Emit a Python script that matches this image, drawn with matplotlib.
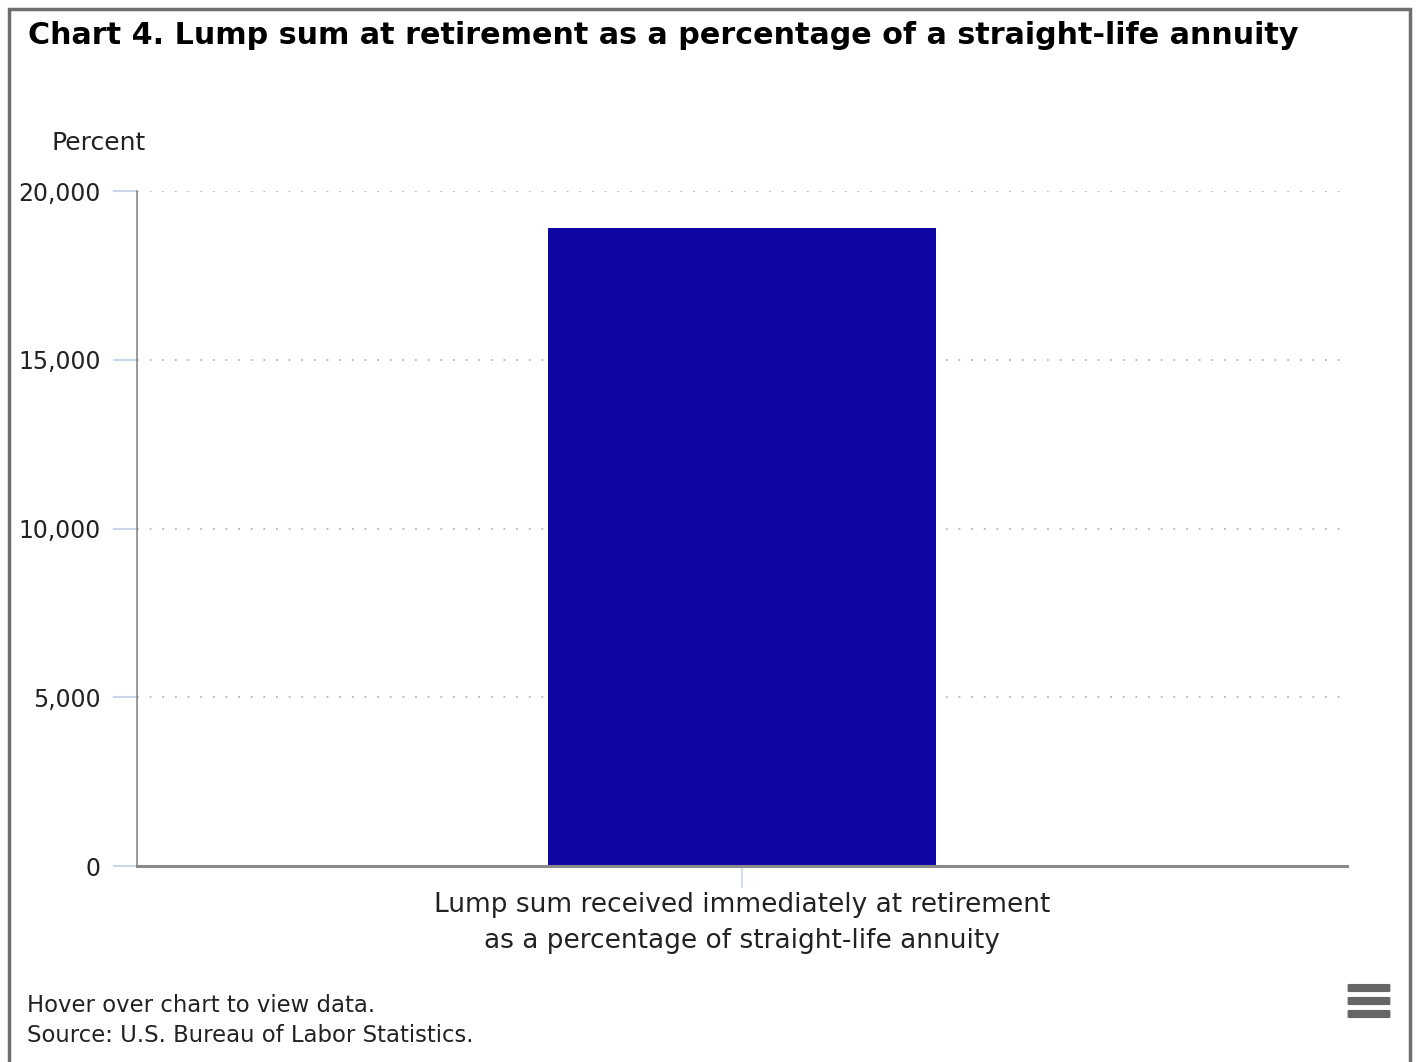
import matplotlib
matplotlib.use("Agg")
import matplotlib.pyplot as plt
from matplotlib.patches import Rectangle, FancyBboxPatch
from matplotlib.ticker import FuncFormatter

categories = ["Lump sum received immediately at retirement\nas a percentage of straight-life annuity"]
values = [18900]
yticks = [0, 5000, 10000, 15000, 20000]

title = "Chart 4. Lump sum at retirement as a percentage of a straight-life annuity"
footer1 = "Hover over chart to view data."
footer2 = "Source: U.S. Bureau of Labor Statistics."

W, H = 1416, 1062
fig = plt.figure(figsize=(W / 100, H / 100), dpi=100)
fig.patch.set_facecolor("white")

# outer frame
fig.patches.append(Rectangle((8.5 / W, -0.01), (1409.5 - 8.5) / W, (1062 - 9) / H + 0.01,
                             transform=fig.transFigure, fill=False,
                             edgecolor="#6e6e6e", linewidth=2.5))

left, right, top, bottom = 137, 1347, 191, 866
ax = fig.add_axes([left / W, 1 - bottom / H, (right - left) / W, (bottom - top) / H])

x = list(range(len(categories)))
ax.bar(x, values, width=0.32, color="#0f07a3", zorder=3)
ax.set_xlim(-0.5, 0.5)
ax.set_ylim(0, 20000)
ax.set_yticks(yticks)
ax.yaxis.set_major_formatter(FuncFormatter(lambda v, p: f"{int(v):,}"))
ax.set_xticks(x)
ax.set_xticklabels(categories, fontsize=19, color="#222222", linespacing=1.5)

ax.grid(axis="y", linestyle=(0, (1, 6)), color="#b5b5b5", linewidth=1.3, zorder=0)
ax.grid(axis="x", visible=False)

for s in ["top", "right"]:
    ax.spines[s].set_visible(False)
ax.spines["left"].set_color("#888888")
ax.spines["left"].set_linewidth(1.2)
ax.spines["bottom"].set_color("#8a8a8a")
ax.spines["bottom"].set_linewidth(2.2)
ax.spines["bottom"].set_zorder(4)

ax.tick_params(axis="y", length=17, width=1.5, color="#ccd6eb", labelsize=17,
               labelcolor="#222222", pad=9)
ax.tick_params(axis="x", length=16, width=1.2, color="#ccd6eb", pad=3)

fig.text(28 / W, 1 - 35 / H, title, fontsize=21.7, fontweight="bold",
         family="DejaVu Sans", color="black", va="center", ha="left")
fig.text(52 / W, 1 - 143 / H, "Percent", fontsize=18, color="#222222",
         va="center", ha="left")
fig.text(27 / W, 1 - 1006 / H, footer1, fontsize=16.4, color="#222222",
         va="center", ha="left")
fig.text(27 / W, 1 - 1036 / H, footer2, fontsize=16.4, color="#222222",
         va="center", ha="left")

# menu icon
for yy in (988, 1001, 1014):
    fig.patches.append(FancyBboxPatch((1349 / W, 1 - (yy + 3) / H), 40 / W, 6 / H,
                                      boxstyle="round,pad=0.001",
                                      transform=fig.transFigure, facecolor="#666666",
                                      edgecolor="none"))

fig.savefig("out.png", dpi=100, facecolor="white")
